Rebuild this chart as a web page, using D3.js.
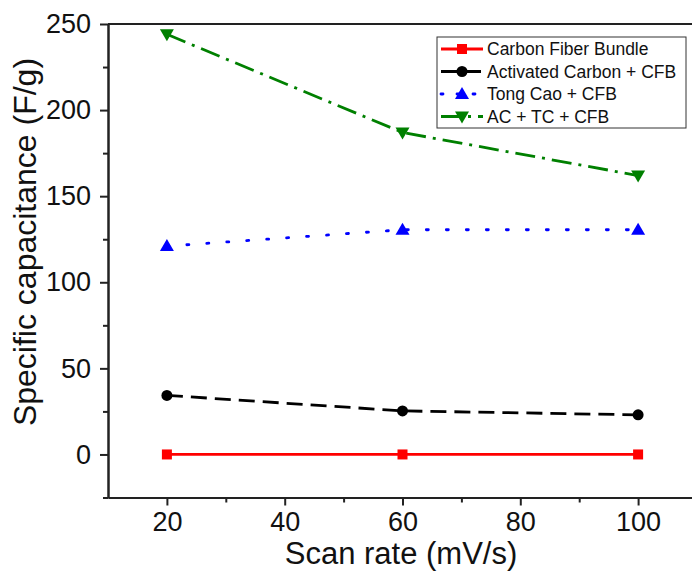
<!DOCTYPE html>
<html>
<head>
<meta charset="utf-8">
<script src="https://cdn.jsdelivr.net/npm/d3@7"></script>
<style>
  body { margin: 0; background: #fff; }
  text { font-family: "Liberation Sans", Arial, sans-serif; }
</style>
</head>
<body>
<div id="chart-area"></div>
<script>
const scanRates = [20, 60, 100]
const cfb = [0, 0, 0]
const acCfb = [34.3, 25.3, 23]
const tcCfb = [121, 130.5, 130.5]
const acTcCfb = [244, 187, 162]
const xTicks = [20, 40, 60, 80, 100]
const yTicks = [0, 50, 100, 150, 200, 250]

const series = [
  {name: 'Carbon Fiber Bundle', values: cfb, color: '#ff0000', dash: null, marker: 'square'},
  {name: 'Activated Carbon + CFB', values: acCfb, color: '#000000', dash: '16,8', marker: 'circle'},
  {name: 'Tong Cao + CFB', values: tcCfb, color: '#0000ff', dash: '2,18', marker: 'triangle'},
  {name: 'AC + TC + CFB', values: acTcCfb, color: '#008000', dash: '20,7,3,7', marker: 'triangleDown'}
]

const W = 692, H = 571
const svg = d3.select('#chart-area').append('svg')
  .attr('width', W).attr('height', H)

const x = d3.scaleLinear().domain([10, 110]).range([108, 697])
const y = d3.scaleLinear().domain([-25, 250]).range([497.5, 24])

// axes, major + minor ticks
svg.append('g')
  .attr('transform', `translate(0,${y(-25)})`)
  .call(d3.axisBottom(x).tickValues(xTicks).tickSize(8).tickSizeOuter(0).tickPadding(6))
svg.append('g')
  .attr('transform', `translate(0,${y(-25)})`)
  .call(d3.axisBottom(x).tickValues([30, 50, 70, 90]).tickSize(5).tickSizeOuter(0).tickFormat(''))

svg.append('g')
  .attr('transform', `translate(${x(10)},0)`)
  .call(d3.axisLeft(y).tickValues(yTicks).tickSize(8).tickSizeOuter(0).tickPadding(9))
svg.append('g')
  .attr('transform', `translate(${x(10)},0)`)
  .call(d3.axisLeft(y).tickValues([-25, 25, 75, 125, 175, 225]).tickSize(5).tickSizeOuter(0).tickFormat(''))

svg.selectAll('.domain').attr('stroke', '#222').attr('stroke-width', 2)
svg.selectAll('.tick line').attr('stroke', '#222').attr('stroke-width', 2)
svg.selectAll('.tick text').attr('font-size', '27px').attr('fill', '#111')
  .attr('font-family', '"Liberation Sans", Arial, sans-serif')

// top spine
svg.append('line')
  .attr('x1', x(10)).attr('x2', x(110))
  .attr('y1', y(250)).attr('y2', y(250))
  .attr('stroke', '#222').attr('stroke-width', 2)

// titles
svg.append('text')
  .attr('x', 401).attr('y', 564)
  .attr('text-anchor', 'middle')
  .attr('font-size', '31px').attr('fill', '#111')
  .text('Scan rate (mV/s)')

svg.append('text')
  .attr('transform', 'translate(36,242) rotate(-90)')
  .attr('text-anchor', 'middle')
  .attr('font-size', '32px').attr('fill', '#111')
  .text('Specific capacitance (F/g)')

const line = d3.line()
  .x((d, i) => x(scanRates[i]))
  .y(d => y(d))

function drawMarker(sel, type, color, cx, cy) {
  if (type === 'square') {
    sel.append('rect').attr('x', cx - 5).attr('y', cy - 5)
      .attr('width', 10).attr('height', 10).attr('fill', color)
  } else if (type === 'circle') {
    sel.append('circle').attr('cx', cx).attr('cy', cy).attr('r', 5.5).attr('fill', color)
  } else if (type === 'triangle') {
    sel.append('path').attr('d', `M${cx},${cy - 7}L${cx + 7},${cy + 5}L${cx - 7},${cy + 5}Z`).attr('fill', color)
  } else {
    sel.append('path').attr('d', `M${cx},${cy + 7}L${cx + 7},${cy - 5}L${cx - 7},${cy - 5}Z`).attr('fill', color)
  }
}

const plot = svg.append('g')
series.forEach(s => {
  plot.append('path')
    .datum(s.values)
    .attr('d', line)
    .attr('fill', 'none')
    .attr('stroke', s.color)
    .attr('stroke-width', 2.8)
    .attr('stroke-linecap', s.dash === '2,18' ? 'round' : 'butt')
    .attr('stroke-dasharray', s.dash)
  s.values.forEach((v, i) => drawMarker(plot, s.marker, s.color, x(scanRates[i]), y(v)))
})

// legend
const lg = svg.append('g').attr('transform', 'translate(437,37)')
lg.append('rect').attr('width', 249).attr('height', 91)
  .attr('fill', '#fff').attr('stroke', '#333').attr('stroke-width', 1)
series.forEach((s, i) => {
  const ly = 12 + i * 22.5
  lg.append('line')
    .attr('x1', 4).attr('x2', 46).attr('y1', ly).attr('y2', ly)
    .attr('stroke', s.color).attr('stroke-width', 2.8)
    .attr('stroke-linecap', s.dash === '2,18' ? 'round' : 'butt')
    .attr('stroke-dasharray', s.dash === '2,18' ? '2,14' : s.dash)
  drawMarker(lg, s.marker, s.color, 25, ly)
  lg.append('text')
    .attr('x', 50).attr('y', ly + 6)
    .attr('font-size', '17.5px').attr('fill', '#111')
    .text(s.name)
})
</script>
</body>
</html>
